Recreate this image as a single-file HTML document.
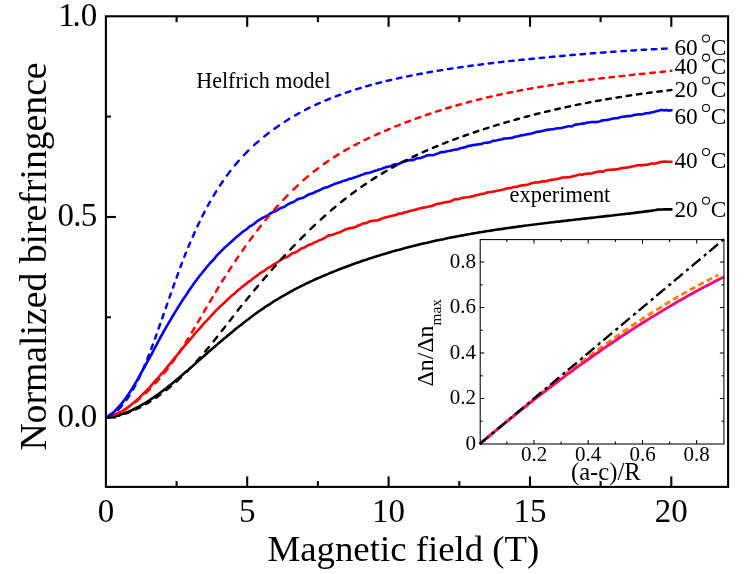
<!DOCTYPE html>
<html><head><meta charset="utf-8"><title>Normalized birefringence vs magnetic field</title>
<style>
html,body{margin:0;padding:0;background:#fff;}
body{width:747px;height:574px;overflow:hidden;}
svg{display:block;will-change:transform;}
text{font-family:"Liberation Serif",serif;fill:#000;}
</style></head><body>
<svg width="747" height="574" viewBox="0 0 747 574">
<rect x="0" y="0" width="747" height="574" fill="#fff"/>
<!-- main curves -->
<g fill="none" stroke-linejoin="round">
<path d="M106.2,417.4 L108.2,417.2 L110.2,416.9 L112.2,416.6 L114.2,416.2 L116.2,415.7 L118.2,415.2 L120.2,414.6 L122.2,414.0 L124.2,413.3 L126.2,412.5 L128.2,411.7 L130.2,410.9 L132.2,410.0 L134.2,409.0 L136.2,408.0 L138.2,407.0 L140.2,405.9 L142.2,404.7 L144.2,403.5 L146.2,402.3 L148.2,401.1 L150.2,399.8 L152.2,398.4 L154.2,397.0 L156.2,395.6 L158.2,394.2 L160.2,392.7 L162.2,391.2 L164.2,389.7 L166.2,388.2 L168.2,386.6 L170.2,385.0 L172.2,383.4 L174.2,381.8 L176.2,380.1 L178.2,378.4 L180.2,376.7 L182.2,375.0 L184.2,373.3 L186.2,371.6 L188.2,369.9 L190.2,368.1 L192.2,366.4 L194.2,364.6 L196.2,362.9 L198.2,361.1 L200.2,359.3 L202.2,357.6 L204.2,355.8 L206.2,354.1 L208.2,352.3 L210.2,350.6 L212.2,348.8 L214.2,347.1 L216.2,345.4 L218.2,343.6 L220.2,341.9 L222.2,340.2 L224.2,338.5 L226.2,336.9 L228.2,335.2 L230.2,333.5 L232.2,331.9 L234.2,330.3 L236.2,328.6 L238.2,327.0 L240.2,325.5 L242.2,323.9 L244.2,322.3 L246.2,320.8 L248.2,319.3 L250.2,317.7 L252.2,316.3 L254.2,314.8 L256.2,313.3 L258.2,311.9 L260.2,310.5 L262.2,309.1 L264.2,307.7 L266.2,306.4 L268.2,305.1 L270.2,303.8 L272.2,302.5 L274.2,301.2 L276.2,300.0 L278.2,298.8 L280.2,297.6 L282.2,296.4 L284.2,295.3 L286.2,294.1 L288.2,293.0 L290.2,291.9 L292.2,290.8 L294.2,289.7 L296.2,288.7 L298.2,287.7 L300.2,286.6 L302.2,285.6 L304.2,284.7 L306.2,283.7 L308.2,282.7 L310.2,281.8 L312.2,280.9 L314.2,279.9 L316.2,279.0 L318.2,278.1 L320.2,277.3 L322.2,276.4 L324.2,275.5 L326.2,274.7 L328.2,273.9 L330.2,273.0 L332.2,272.2 L334.2,271.4 L336.2,270.6 L338.2,269.8 L340.2,269.0 L342.2,268.3 L344.2,267.5 L346.2,266.7 L348.2,266.0 L350.2,265.3 L352.2,264.5 L354.2,263.8 L356.2,263.1 L358.2,262.4 L360.2,261.7 L362.2,261.0 L364.2,260.3 L366.2,259.7 L368.2,259.0 L370.2,258.3 L372.2,257.7 L374.2,257.1 L376.2,256.4 L378.2,255.8 L380.2,255.2 L382.2,254.6 L384.2,254.0 L386.2,253.4 L388.2,252.8 L390.2,252.2 L392.2,251.6 L394.2,251.1 L396.2,250.5 L398.2,250.0 L400.2,249.4 L402.2,248.9 L404.2,248.3 L406.2,247.8 L408.2,247.3 L410.2,246.8 L412.2,246.3 L414.2,245.8 L416.2,245.3 L418.2,244.8 L420.2,244.3 L422.2,243.8 L424.2,243.3 L426.2,242.9 L428.2,242.4 L430.2,242.0 L432.2,241.5 L434.2,241.1 L436.2,240.6 L438.2,240.2 L440.2,239.8 L442.2,239.4 L444.2,238.9 L446.2,238.5 L448.2,238.1 L450.2,237.7 L452.2,237.3 L454.2,236.9 L456.2,236.6 L458.2,236.2 L460.2,235.8 L462.2,235.4 L464.2,235.1 L466.2,234.7 L468.2,234.3 L470.2,234.0 L472.2,233.6 L474.2,233.3 L476.2,233.0 L478.2,232.6 L480.2,232.3 L482.2,232.0 L484.2,231.6 L486.2,231.3 L488.2,231.0 L490.2,230.7 L492.2,230.4 L494.2,230.0 L496.2,229.7 L498.2,229.4 L500.2,229.1 L502.2,228.9 L504.2,228.6 L506.2,228.3 L508.2,228.0 L510.2,227.7 L512.2,227.4 L514.2,227.1 L516.2,226.9 L518.2,226.6 L520.2,226.3 L522.2,226.1 L524.2,225.8 L526.2,225.5 L528.2,225.3 L530.2,225.0 L532.2,224.8 L534.2,224.5 L536.2,224.3 L538.2,224.0 L540.2,223.8 L542.2,223.5 L544.2,223.3 L546.2,223.0 L548.2,222.8 L550.2,222.5 L552.2,222.3 L554.2,222.1 L556.2,221.8 L558.2,221.6 L560.2,221.4 L562.2,221.1 L564.2,220.9 L566.2,220.7 L568.2,220.4 L570.2,220.2 L572.2,220.0 L574.2,219.8 L576.2,219.5 L578.2,219.3 L580.2,219.1 L582.2,218.8 L584.2,218.6 L586.2,218.4 L588.2,218.2 L590.2,217.9 L592.2,217.7 L594.2,217.5 L596.2,217.3 L598.2,217.0 L600.2,216.8 L602.2,216.6 L604.2,216.4 L606.2,216.1 L608.2,215.9 L610.2,215.7 L612.2,215.5 L614.2,215.2 L616.2,215.0 L618.2,214.8 L620.2,214.5 L622.2,214.3 L624.2,214.1 L626.2,213.8 L628.2,213.6 L630.2,213.4 L632.2,213.1 L634.2,212.9 L636.2,212.6 L638.2,212.4 L640.2,212.1 L642.2,211.9 L644.2,211.6 L646.2,211.4 L648.2,211.1 L650.2,210.9 L652.2,210.6 L654.2,210.3 L656.2,209.9 L658.2,209.6 L660.2,209.5 L662.2,209.5 L664.2,209.4 L666.2,209.4 L668.2,209.4 L670.2,209.4 L672.2,209.4 L672.5,209.4" stroke="#000" stroke-width="2.6"/>
<path d="M106.2,417.2 L107.2,417.1 L108.2,416.9 L109.2,416.8 L110.2,416.5 L111.2,416.0 L112.2,415.6 L113.2,415.2 L114.2,415.0 L115.2,414.7 L116.2,414.2 L117.2,413.7 L118.2,413.2 L119.2,412.7 L120.2,412.2 L121.2,411.6 L122.2,411.1 L123.2,410.5 L124.2,409.9 L125.2,409.2 L126.2,408.5 L127.2,407.7 L128.2,407.0 L129.2,406.3 L130.2,405.6 L131.2,404.8 L132.2,403.9 L133.2,403.0 L134.2,402.2 L135.2,401.3 L136.2,400.5 L137.2,399.6 L138.2,398.8 L139.2,397.8 L140.2,396.8 L141.2,395.8 L142.2,394.8 L143.2,393.9 L144.2,392.9 L145.2,392.0 L146.2,391.0 L147.2,390.0 L148.2,389.0 L149.2,387.9 L150.2,386.8 L151.2,385.6 L152.2,384.4 L153.2,383.2 L154.2,382.1 L155.2,380.9 L156.2,379.9 L157.2,378.8 L158.2,377.7 L159.2,376.5 L160.2,375.4 L161.2,374.2 L162.2,373.0 L163.2,371.9 L164.2,370.8 L165.2,369.6 L166.2,368.4 L167.2,367.1 L168.2,365.9 L169.2,364.7 L170.2,363.5 L171.2,362.3 L172.2,361.0 L173.2,359.8 L174.2,358.5 L175.2,357.3 L176.2,356.2 L177.2,355.0 L178.2,353.8 L179.2,352.5 L180.2,351.3 L181.2,350.0 L182.2,348.8 L183.2,347.6 L184.2,346.4 L185.2,345.2 L186.2,344.0 L187.2,342.9 L188.2,341.8 L189.2,340.7 L190.2,339.5 L191.2,338.3 L192.2,337.0 L193.2,335.7 L194.2,334.4 L195.2,333.2 L196.2,332.1 L197.2,331.1 L198.2,330.0 L199.2,329.0 L200.2,327.8 L201.2,326.6 L202.2,325.4 L203.2,324.3 L204.2,323.2 L205.2,322.2 L206.2,321.2 L207.2,320.2 L208.2,319.1 L209.2,318.0 L210.2,316.8 L211.2,315.8 L212.2,314.7 L213.2,313.7 L214.2,312.6 L215.2,311.4 L216.2,310.4 L217.2,309.4 L218.2,308.5 L219.2,307.5 L220.2,306.4 L221.2,305.5 L222.2,304.6 L223.2,303.7 L224.2,302.8 L225.2,301.8 L226.2,300.8 L227.2,300.0 L228.2,299.0 L229.2,298.1 L230.2,297.1 L231.2,296.1 L232.2,295.3 L233.2,294.5 L234.2,293.7 L235.2,292.9 L236.2,291.9 L237.2,291.0 L238.2,290.1 L239.2,289.3 L240.2,288.5 L241.2,287.6 L242.2,286.8 L243.2,286.1 L244.2,285.3 L245.2,284.5 L246.2,283.7 L247.2,282.9 L248.2,282.1 L249.2,281.4 L250.2,280.8 L251.2,280.1 L252.2,279.3 L253.2,278.3 L254.2,277.7 L255.2,276.9 L256.2,276.2 L257.2,275.4 L258.2,274.7 L259.2,273.9 L260.2,273.1 L261.2,272.5 L262.2,271.8 L263.2,271.3 L264.2,270.8 L265.2,270.1 L266.2,269.3 L267.2,268.5 L268.2,267.9 L269.2,267.3 L270.2,266.8 L271.2,266.2 L272.2,265.5 L273.2,264.8 L274.2,264.1 L275.2,263.5 L276.2,262.9 L277.2,262.4 L278.2,261.8 L279.2,261.1 L280.2,260.3 L281.2,259.5 L282.2,258.9 L283.2,258.3 L284.2,257.9 L285.2,257.6 L286.2,257.2 L287.2,256.9 L288.2,256.3 L289.2,255.6 L290.2,254.9 L291.2,254.1 L292.2,253.4 L293.2,252.9 L294.2,252.7 L295.2,252.4 L296.2,252.0 L297.2,251.4 L298.2,250.8 L299.2,250.0 L300.2,249.3 L301.2,248.6 L302.2,248.3 L303.2,248.1 L304.2,247.7 L305.2,247.1 L306.2,246.4 L307.2,245.7 L308.2,245.2 L309.2,244.8 L310.2,244.5 L311.2,244.3 L312.2,243.8 L313.2,243.1 L314.2,242.5 L315.2,242.1 L316.2,241.8 L317.2,241.4 L318.2,240.9 L319.2,240.4 L320.2,240.0 L321.2,239.6 L322.2,239.1 L323.2,238.7 L324.2,238.2 L325.2,237.7 L326.2,237.0 L327.2,236.2 L328.2,235.6 L329.2,235.3 L330.2,235.2 L331.2,235.1 L332.2,234.9 L333.2,234.5 L334.2,234.1 L335.2,233.7 L336.2,233.4 L337.2,233.0 L338.2,232.7 L339.2,232.4 L340.2,232.0 L341.2,231.6 L342.2,231.1 L343.2,230.6 L344.2,230.0 L345.2,229.6 L346.2,229.2 L347.2,228.9 L348.2,228.6 L349.2,228.3 L350.2,228.1 L351.2,228.1 L352.2,227.9 L353.2,227.6 L354.2,227.4 L355.2,227.0 L356.2,226.6 L357.2,226.0 L358.2,225.5 L359.2,225.2 L360.2,224.8 L361.2,224.3 L362.2,223.8 L363.2,223.5 L364.2,223.4 L365.2,223.3 L366.2,223.2 L367.2,222.7 L368.2,222.2 L369.2,221.6 L370.2,221.3 L371.2,221.1 L372.2,221.0 L373.2,220.8 L374.2,220.6 L375.2,220.5 L376.2,220.5 L377.2,220.4 L378.2,220.2 L379.2,219.7 L380.2,219.3 L381.2,218.8 L382.2,218.5 L383.2,218.1 L384.2,217.9 L385.2,217.4 L386.2,217.2 L387.2,217.0 L388.2,216.8 L389.2,216.4 L390.2,216.2 L391.2,216.0 L392.2,215.8 L393.2,215.5 L394.2,215.3 L395.2,215.1 L396.2,215.0 L397.2,214.5 L398.2,213.9 L399.2,213.5 L400.2,213.5 L401.2,213.6 L402.2,213.4 L403.2,213.0 L404.2,212.5 L405.2,212.2 L406.2,212.1 L407.2,211.9 L408.2,211.6 L409.2,211.2 L410.2,210.9 L411.2,210.7 L412.2,210.5 L413.2,210.1 L414.2,209.9 L415.2,209.7 L416.2,209.6 L417.2,209.2 L418.2,208.8 L419.2,208.4 L420.2,208.2 L421.2,208.0 L422.2,207.7 L423.2,207.6 L424.2,207.5 L425.2,207.5 L426.2,207.2 L427.2,207.0 L428.2,206.8 L429.2,206.6 L430.2,206.3 L431.2,206.2 L432.2,205.8 L433.2,205.5 L434.2,205.0 L435.2,204.6 L436.2,204.2 L437.2,203.9 L438.2,203.8 L439.2,203.6 L440.2,203.5 L441.2,203.3 L442.2,203.1 L443.2,202.8 L444.2,202.5 L445.2,202.2 L446.2,202.1 L447.2,202.0 L448.2,201.9 L449.2,201.8 L450.2,201.5 L451.2,201.0 L452.2,200.5 L453.2,200.1 L454.2,199.5 L455.2,199.1 L456.2,199.1 L457.2,199.2 L458.2,199.3 L459.2,199.0 L460.2,198.6 L461.2,198.2 L462.2,198.0 L463.2,197.8 L464.2,197.6 L465.2,197.5 L466.2,197.3 L467.2,197.2 L468.2,197.2 L469.2,197.0 L470.2,196.9 L471.2,196.5 L472.2,196.4 L473.2,196.1 L474.2,195.9 L475.2,195.4 L476.2,195.2 L477.2,195.0 L478.2,194.9 L479.2,194.6 L480.2,194.3 L481.2,194.0 L482.2,193.8 L483.2,193.7 L484.2,193.5 L485.2,193.2 L486.2,192.8 L487.2,192.4 L488.2,192.2 L489.2,192.1 L490.2,192.1 L491.2,191.9 L492.2,191.7 L493.2,191.5 L494.2,191.5 L495.2,191.4 L496.2,191.0 L497.2,190.8 L498.2,190.5 L499.2,190.5 L500.2,190.2 L501.2,190.0 L502.2,189.8 L503.2,189.6 L504.2,189.3 L505.2,188.9 L506.2,188.6 L507.2,188.4 L508.2,188.3 L509.2,188.1 L510.2,188.0 L511.2,187.9 L512.2,187.5 L513.2,187.2 L514.2,187.0 L515.2,187.0 L516.2,187.0 L517.2,186.7 L518.2,186.3 L519.2,185.9 L520.2,185.7 L521.2,185.5 L522.2,185.4 L523.2,185.3 L524.2,185.1 L525.2,185.2 L526.2,184.9 L527.2,184.8 L528.2,184.6 L529.2,184.3 L530.2,183.7 L531.2,183.2 L532.2,183.1 L533.2,183.0 L534.2,182.8 L535.2,182.5 L536.2,182.4 L537.2,182.5 L538.2,182.4 L539.2,182.2 L540.2,181.9 L541.2,181.6 L542.2,181.4 L543.2,181.4 L544.2,181.4 L545.2,181.4 L546.2,181.2 L547.2,180.9 L548.2,180.6 L549.2,180.2 L550.2,180.0 L551.2,179.9 L552.2,179.8 L553.2,179.7 L554.2,179.5 L555.2,179.3 L556.2,179.1 L557.2,179.0 L558.2,178.8 L559.2,178.6 L560.2,178.3 L561.2,177.8 L562.2,177.5 L563.2,177.5 L564.2,177.5 L565.2,177.5 L566.2,177.4 L567.2,177.2 L568.2,177.2 L569.2,177.2 L570.2,177.1 L571.2,176.8 L572.2,176.4 L573.2,176.2 L574.2,176.0 L575.2,175.8 L576.2,175.6 L577.2,175.3 L578.2,174.8 L579.2,174.5 L580.2,174.4 L581.2,174.6 L582.2,174.7 L583.2,174.5 L584.2,174.1 L585.2,173.9 L586.2,173.8 L587.2,173.7 L588.2,173.6 L589.2,173.6 L590.2,173.5 L591.2,173.5 L592.2,173.3 L593.2,173.0 L594.2,172.6 L595.2,172.3 L596.2,172.1 L597.2,171.9 L598.2,171.8 L599.2,171.5 L600.2,171.4 L601.2,171.5 L602.2,171.7 L603.2,171.6 L604.2,171.2 L605.2,170.6 L606.2,170.3 L607.2,170.1 L608.2,170.0 L609.2,169.8 L610.2,169.7 L611.2,169.7 L612.2,169.6 L613.2,169.6 L614.2,169.6 L615.2,169.5 L616.2,169.4 L617.2,169.3 L618.2,169.0 L619.2,168.8 L620.2,168.5 L621.2,168.4 L622.2,168.1 L623.2,167.9 L624.2,167.8 L625.2,167.7 L626.2,167.6 L627.2,167.5 L628.2,167.4 L629.2,167.3 L630.2,167.1 L631.2,166.7 L632.2,166.4 L633.2,166.2 L634.2,166.2 L635.2,165.9 L636.2,165.6 L637.2,165.3 L638.2,165.3 L639.2,165.3 L640.2,165.4 L641.2,165.2 L642.2,165.1 L643.2,165.0 L644.2,165.0 L645.2,165.0 L646.2,164.8 L647.2,164.7 L648.2,164.5 L649.2,164.3 L650.2,163.8 L651.2,163.5 L652.2,163.4 L653.2,163.6 L654.2,163.7 L655.2,163.6 L656.2,163.3 L657.2,163.0 L658.2,162.7 L659.2,162.4 L660.2,162.1 L661.2,161.9 L662.2,161.8 L663.2,161.7 L664.2,161.6 L665.2,161.6 L666.2,161.7 L667.2,161.7 L668.2,161.7 L669.2,161.7 L670.2,161.7 L671.2,161.7 L672.2,161.7 L672.5,161.7" stroke="#f00" stroke-width="2.6"/>
<path d="M106.2,416.9 L107.2,416.4 L108.2,415.9 L109.2,415.2 L110.2,414.5 L111.2,413.9 L112.2,413.3 L113.2,412.6 L114.2,411.7 L115.2,410.6 L116.2,409.5 L117.2,408.4 L118.2,407.4 L119.2,406.3 L120.2,405.2 L121.2,404.1 L122.2,402.9 L123.2,401.6 L124.2,400.3 L125.2,398.9 L126.2,397.5 L127.2,396.0 L128.2,394.6 L129.2,393.1 L130.2,391.7 L131.2,390.0 L132.2,388.4 L133.2,386.7 L134.2,385.1 L135.2,383.5 L136.2,381.8 L137.2,380.2 L138.2,378.3 L139.2,376.5 L140.2,374.7 L141.2,372.9 L142.2,371.1 L143.2,369.3 L144.2,367.6 L145.2,365.8 L146.2,363.9 L147.2,362.0 L148.2,360.2 L149.2,358.5 L150.2,356.7 L151.2,354.8 L152.2,353.0 L153.2,351.0 L154.2,349.1 L155.2,347.2 L156.2,345.4 L157.2,343.5 L158.2,341.7 L159.2,339.7 L160.2,337.8 L161.2,336.0 L162.2,334.3 L163.2,332.5 L164.2,330.7 L165.2,328.9 L166.2,327.1 L167.2,325.4 L168.2,323.6 L169.2,322.0 L170.2,320.3 L171.2,318.6 L172.2,316.8 L173.2,315.2 L174.2,313.6 L175.2,312.0 L176.2,310.4 L177.2,308.7 L178.2,307.1 L179.2,305.5 L180.2,304.0 L181.2,302.4 L182.2,300.8 L183.2,299.2 L184.2,297.8 L185.2,296.4 L186.2,294.9 L187.2,293.4 L188.2,291.8 L189.2,290.2 L190.2,288.8 L191.2,287.4 L192.2,286.0 L193.2,284.5 L194.2,283.1 L195.2,281.8 L196.2,280.5 L197.2,279.1 L198.2,277.7 L199.2,276.4 L200.2,275.2 L201.2,274.0 L202.2,272.8 L203.2,271.5 L204.2,270.2 L205.2,269.0 L206.2,267.7 L207.2,266.6 L208.2,265.3 L209.2,264.2 L210.2,263.0 L211.2,262.0 L212.2,261.0 L213.2,260.0 L214.2,258.8 L215.2,257.6 L216.2,256.3 L217.2,255.2 L218.2,254.1 L219.2,253.1 L220.2,252.1 L221.2,251.1 L222.2,250.1 L223.2,249.1 L224.2,248.0 L225.2,247.1 L226.2,246.3 L227.2,245.4 L228.2,244.6 L229.2,243.6 L230.2,242.7 L231.2,241.8 L232.2,241.0 L233.2,240.0 L234.2,239.1 L235.2,238.1 L236.2,237.2 L237.2,236.4 L238.2,235.7 L239.2,234.8 L240.2,234.0 L241.2,233.1 L242.2,232.3 L243.2,231.5 L244.2,230.8 L245.2,230.1 L246.2,229.5 L247.2,228.6 L248.2,227.7 L249.2,226.9 L250.2,226.0 L251.2,225.6 L252.2,225.1 L253.2,224.5 L254.2,223.7 L255.2,222.9 L256.2,222.1 L257.2,221.2 L258.2,220.6 L259.2,220.0 L260.2,219.3 L261.2,218.7 L262.2,218.1 L263.2,217.6 L264.2,217.1 L265.2,216.6 L266.2,216.0 L267.2,215.6 L268.2,215.0 L269.2,214.4 L270.2,213.5 L271.2,213.0 L272.2,212.4 L273.2,212.1 L274.2,211.7 L275.2,211.3 L276.2,210.8 L277.2,210.2 L278.2,209.6 L279.2,208.9 L280.2,208.3 L281.2,207.8 L282.2,207.5 L283.2,207.3 L284.2,206.8 L285.2,206.3 L286.2,205.4 L287.2,204.8 L288.2,204.2 L289.2,203.7 L290.2,203.2 L291.2,202.8 L292.2,202.4 L293.2,202.1 L294.2,201.5 L295.2,200.9 L296.2,200.2 L297.2,199.5 L298.2,199.0 L299.2,198.7 L300.2,198.5 L301.2,198.3 L302.2,198.0 L303.2,197.7 L304.2,197.2 L305.2,196.6 L306.2,195.9 L307.2,195.3 L308.2,194.7 L309.2,194.3 L310.2,193.9 L311.2,193.8 L312.2,193.4 L313.2,193.1 L314.2,192.5 L315.2,192.0 L316.2,191.5 L317.2,191.1 L318.2,190.7 L319.2,190.3 L320.2,189.9 L321.2,189.4 L322.2,188.8 L323.2,188.3 L324.2,187.8 L325.2,187.6 L326.2,187.4 L327.2,187.3 L328.2,186.9 L329.2,186.3 L330.2,185.8 L331.2,185.4 L332.2,185.1 L333.2,184.7 L334.2,184.2 L335.2,183.7 L336.2,183.4 L337.2,183.1 L338.2,182.9 L339.2,182.5 L340.2,182.3 L341.2,181.8 L342.2,181.3 L343.2,180.9 L344.2,180.7 L345.2,180.5 L346.2,180.3 L347.2,179.8 L348.2,179.2 L349.2,178.9 L350.2,178.8 L351.2,178.7 L352.2,178.3 L353.2,177.9 L354.2,177.5 L355.2,177.3 L356.2,177.1 L357.2,176.6 L358.2,176.2 L359.2,175.7 L360.2,175.4 L361.2,175.0 L362.2,174.8 L363.2,174.4 L364.2,173.9 L365.2,173.4 L366.2,173.2 L367.2,173.1 L368.2,173.1 L369.2,172.9 L370.2,172.5 L371.2,172.1 L372.2,171.7 L373.2,171.4 L374.2,171.0 L375.2,170.7 L376.2,170.5 L377.2,170.2 L378.2,169.8 L379.2,169.5 L380.2,169.3 L381.2,169.0 L382.2,168.6 L383.2,168.2 L384.2,167.7 L385.2,167.4 L386.2,167.0 L387.2,166.9 L388.2,166.7 L389.2,166.5 L390.2,166.3 L391.2,165.9 L392.2,165.4 L393.2,164.9 L394.2,164.5 L395.2,164.4 L396.2,164.4 L397.2,164.2 L398.2,164.1 L399.2,163.7 L400.2,163.3 L401.2,162.7 L402.2,162.1 L403.2,161.8 L404.2,161.6 L405.2,161.4 L406.2,161.1 L407.2,160.8 L408.2,160.5 L409.2,160.3 L410.2,160.1 L411.2,160.1 L412.2,160.1 L413.2,160.0 L414.2,159.7 L415.2,159.1 L416.2,158.6 L417.2,158.2 L418.2,158.2 L419.2,158.2 L420.2,158.0 L421.2,157.7 L422.2,157.3 L423.2,157.0 L424.2,156.6 L425.2,156.2 L426.2,155.7 L427.2,155.4 L428.2,155.2 L429.2,155.1 L430.2,155.0 L431.2,155.2 L432.2,155.3 L433.2,155.3 L434.2,154.9 L435.2,154.4 L436.2,154.0 L437.2,153.7 L438.2,153.4 L439.2,153.0 L440.2,152.5 L441.2,152.1 L442.2,152.1 L443.2,152.1 L444.2,152.0 L445.2,151.7 L446.2,151.4 L447.2,151.2 L448.2,151.0 L449.2,151.0 L450.2,150.8 L451.2,150.5 L452.2,150.3 L453.2,149.9 L454.2,149.7 L455.2,149.5 L456.2,149.5 L457.2,149.4 L458.2,149.2 L459.2,148.7 L460.2,148.3 L461.2,148.0 L462.2,147.8 L463.2,147.7 L464.2,147.5 L465.2,147.3 L466.2,146.8 L467.2,146.3 L468.2,145.9 L469.2,145.9 L470.2,145.9 L471.2,145.6 L472.2,145.3 L473.2,145.1 L474.2,145.0 L475.2,144.9 L476.2,144.6 L477.2,144.6 L478.2,144.4 L479.2,144.3 L480.2,144.1 L481.2,144.0 L482.2,143.6 L483.2,143.3 L484.2,142.9 L485.2,142.7 L486.2,142.7 L487.2,142.6 L488.2,142.5 L489.2,142.4 L490.2,142.2 L491.2,141.7 L492.2,141.2 L493.2,140.8 L494.2,140.8 L495.2,140.8 L496.2,140.6 L497.2,140.3 L498.2,139.9 L499.2,139.7 L500.2,139.5 L501.2,139.5 L502.2,139.2 L503.2,138.8 L504.2,138.5 L505.2,138.5 L506.2,138.5 L507.2,138.4 L508.2,138.2 L509.2,138.2 L510.2,138.1 L511.2,138.0 L512.2,137.7 L513.2,137.4 L514.2,137.1 L515.2,136.8 L516.2,136.5 L517.2,136.5 L518.2,136.2 L519.2,136.0 L520.2,135.5 L521.2,135.4 L522.2,135.2 L523.2,135.1 L524.2,135.0 L525.2,134.7 L526.2,134.5 L527.2,134.2 L528.2,134.1 L529.2,134.0 L530.2,133.9 L531.2,133.6 L532.2,133.3 L533.2,133.1 L534.2,132.7 L535.2,132.3 L536.2,132.0 L537.2,131.7 L538.2,131.6 L539.2,131.6 L540.2,131.4 L541.2,131.4 L542.2,131.0 L543.2,130.8 L544.2,130.5 L545.2,130.2 L546.2,129.9 L547.2,129.9 L548.2,129.8 L549.2,129.6 L550.2,129.5 L551.2,129.3 L552.2,129.3 L553.2,129.2 L554.2,129.0 L555.2,128.8 L556.2,128.4 L557.2,128.2 L558.2,128.2 L559.2,128.3 L560.2,128.3 L561.2,128.1 L562.2,127.7 L563.2,127.4 L564.2,127.2 L565.2,127.1 L566.2,126.9 L567.2,126.6 L568.2,126.3 L569.2,126.2 L570.2,126.3 L571.2,126.5 L572.2,126.3 L573.2,125.7 L574.2,125.1 L575.2,124.6 L576.2,124.6 L577.2,124.5 L578.2,124.3 L579.2,124.1 L580.2,123.9 L581.2,123.7 L582.2,123.6 L583.2,123.6 L584.2,123.5 L585.2,123.3 L586.2,122.9 L587.2,122.6 L588.2,122.5 L589.2,122.4 L590.2,122.2 L591.2,122.0 L592.2,122.0 L593.2,122.0 L594.2,122.0 L595.2,122.1 L596.2,122.1 L597.2,121.9 L598.2,121.7 L599.2,121.5 L600.2,121.2 L601.2,120.8 L602.2,120.4 L603.2,120.4 L604.2,120.3 L605.2,120.3 L606.2,120.0 L607.2,119.9 L608.2,119.7 L609.2,119.6 L610.2,119.3 L611.2,118.9 L612.2,118.7 L613.2,118.5 L614.2,118.4 L615.2,118.3 L616.2,118.3 L617.2,118.2 L618.2,117.9 L619.2,117.6 L620.2,117.3 L621.2,117.1 L622.2,116.8 L623.2,116.7 L624.2,116.6 L625.2,116.6 L626.2,116.3 L627.2,116.1 L628.2,116.0 L629.2,116.1 L630.2,116.1 L631.2,115.9 L632.2,115.6 L633.2,115.3 L634.2,114.9 L635.2,114.8 L636.2,114.7 L637.2,114.6 L638.2,114.4 L639.2,114.4 L640.2,114.4 L641.2,114.4 L642.2,114.2 L643.2,114.0 L644.2,113.7 L645.2,113.5 L646.2,113.3 L647.2,113.3 L648.2,113.1 L649.2,113.1 L650.2,112.7 L651.2,112.5 L652.2,112.3 L653.2,112.2 L654.2,111.9 L655.2,111.6 L656.2,111.3 L657.2,111.0 L658.2,110.7 L659.2,110.4 L660.2,110.2 L661.2,110.0 L662.2,109.9 L663.2,110.2 L664.2,110.4 L665.2,110.3 L666.2,109.9 L667.2,110.2 L668.2,110.7 L669.2,110.6 L670.2,110.3 L671.2,110.3 L672.2,110.5 L672.5,110.6" stroke="#00f" stroke-width="2.6"/>
<g stroke-width="2.45" stroke-linecap="round">
<path d="M106.2,417.6 L107.0,417.5 L107.8,417.5 L108.6,417.4 L109.4,417.3 L109.5,417.3 M115.2,416.4 L116.0,416.2 L116.8,416.1 L117.6,415.9 L118.4,415.7 L119.2,415.5 L119.7,415.3 M125.4,413.6 L126.2,413.3 L127.0,413.1 L127.8,412.8 L128.6,412.5 L129.4,412.1 L129.9,411.9 M135.6,409.5 L136.4,409.1 L137.2,408.7 L138.0,408.3 L138.8,407.9 L139.6,407.5 L140.1,407.3 M145.8,404.1 L146.6,403.7 L147.4,403.2 L148.2,402.7 L149.0,402.2 L149.8,401.7 L150.3,401.4 M156.0,397.7 L156.8,397.1 L157.6,396.6 L158.4,396.0 L159.2,395.4 L160.0,394.9 L160.5,394.5 M166.2,390.2 L167.0,389.5 L167.8,388.9 L168.6,388.3 L169.4,387.6 L170.2,386.9 L170.7,386.5 M176.4,381.6 L177.2,380.9 L178.0,380.1 L178.8,379.4 L179.6,378.7 L180.4,377.9 L180.9,377.4 M186.6,371.9 L187.4,371.1 L188.2,370.3 L189.0,369.5 L189.8,368.6 L190.6,367.8 L191.0,367.4 M196.3,361.7 L197.1,360.8 L197.9,359.9 L198.7,359.0 L199.5,358.1 L200.3,357.2 M205.2,351.5 L206.0,350.6 L206.8,349.6 L207.6,348.6 L208.4,347.7 L208.9,347.1 M213.6,341.3 L214.4,340.3 L215.2,339.3 L216.0,338.3 L216.8,337.3 L217.2,336.7 M221.7,331.0 L222.5,330.0 L223.3,329.0 L224.1,328.0 L224.9,326.9 L225.2,326.6 M229.6,320.9 L230.4,319.9 L231.2,318.9 L232.0,317.9 L232.8,316.8 L233.1,316.5 M237.7,310.6 L238.5,309.6 L239.3,308.6 L240.1,307.6 L240.9,306.6 L241.3,306.1 M245.9,300.5 L246.7,299.5 L247.5,298.5 L248.3,297.5 L249.1,296.5 L249.5,296.1 M254.3,290.3 L255.1,289.3 L255.9,288.4 L256.7,287.4 L257.5,286.4 L258.0,285.9 M262.9,280.1 L263.7,279.2 L264.5,278.2 L265.3,277.3 L266.1,276.4 L266.8,275.6 M271.8,269.9 L272.6,268.9 L273.4,268.0 L274.2,267.1 L275.0,266.2 L275.8,265.4 M280.9,259.7 L281.7,258.8 L282.5,258.0 L283.3,257.1 L284.1,256.2 L284.9,255.4 L285.0,255.2 M290.4,249.5 L291.2,248.6 L292.0,247.8 L292.8,247.0 L293.6,246.1 L294.4,245.3 L294.7,245.0 M300.3,239.3 L301.1,238.5 L301.9,237.6 L302.7,236.8 L303.5,236.0 L304.3,235.3 L304.8,234.8 M310.5,229.2 L311.3,228.4 L312.1,227.7 L312.9,226.9 L313.7,226.1 L314.5,225.4 L315.0,224.9 M320.7,219.6 L321.5,218.9 L322.3,218.2 L323.1,217.5 L323.9,216.7 L324.7,216.0 L325.2,215.6 M330.9,210.6 L331.7,209.9 L332.5,209.2 L333.3,208.5 L334.1,207.9 L334.9,207.2 L335.4,206.8 M341.1,202.1 L341.9,201.5 L342.7,200.8 L343.5,200.2 L344.3,199.5 L345.1,198.9 L345.6,198.5 M351.3,194.2 L352.1,193.6 L352.9,193.0 L353.7,192.4 L354.5,191.8 L355.3,191.2 L355.8,190.9 M361.5,186.8 L362.3,186.2 L363.1,185.7 L363.9,185.1 L364.7,184.6 L365.5,184.1 L366.0,183.7 M371.7,180.0 L372.5,179.4 L373.3,178.9 L374.1,178.4 L374.9,177.9 L375.7,177.4 L376.2,177.1 M381.9,173.6 L382.7,173.1 L383.5,172.6 L384.3,172.2 L385.1,171.7 L385.9,171.2 L386.4,170.9 M392.1,167.7 L392.9,167.2 L393.7,166.8 L394.5,166.3 L395.3,165.9 L396.1,165.5 L396.6,165.2 M402.3,162.2 L403.1,161.8 L403.9,161.4 L404.7,160.9 L405.5,160.5 L406.3,160.1 L406.8,159.9 M412.5,157.1 L413.3,156.7 L414.1,156.3 L414.9,155.9 L415.7,155.5 L416.5,155.2 L417.0,154.9 M422.7,152.3 L423.5,151.9 L424.3,151.6 L425.1,151.2 L425.9,150.9 L426.7,150.5 L427.2,150.3 M432.9,147.9 L433.7,147.5 L434.5,147.2 L435.3,146.9 L436.1,146.5 L436.9,146.2 L437.4,146.0 M443.1,143.7 L443.9,143.4 L444.7,143.1 L445.5,142.7 L446.3,142.4 L447.1,142.1 L447.6,141.9 M453.3,139.8 L454.1,139.5 L454.9,139.2 L455.7,138.9 L456.5,138.6 L457.3,138.3 L457.8,138.1 M463.5,136.1 L464.3,135.8 L465.1,135.5 L465.9,135.2 L466.7,134.9 L467.5,134.7 L468.0,134.5 M473.7,132.5 L474.5,132.3 L475.3,132.0 L476.1,131.7 L476.9,131.4 L477.7,131.2 L478.2,131.0 M483.9,129.1 L484.7,128.9 L485.5,128.6 L486.3,128.4 L487.1,128.1 L487.9,127.9 L488.4,127.7 M494.1,125.9 L494.9,125.7 L495.7,125.4 L496.5,125.2 L497.3,124.9 L498.1,124.7 L498.6,124.5 M504.3,122.8 L505.1,122.6 L505.9,122.4 L506.7,122.1 L507.5,121.9 L508.3,121.7 L508.8,121.5 M514.5,119.9 L515.3,119.7 L516.1,119.5 L516.9,119.2 L517.7,119.0 L518.5,118.8 L519.0,118.7 M524.7,117.1 L525.5,116.9 L526.3,116.7 L527.1,116.5 L527.9,116.3 L528.7,116.1 L529.2,115.9 M534.9,114.5 L535.7,114.2 L536.5,114.0 L537.3,113.8 L538.1,113.6 L538.9,113.4 L539.4,113.3 M545.1,111.9 L545.9,111.7 L546.7,111.5 L547.5,111.4 L548.3,111.2 L549.1,111.0 L549.6,110.9 M555.3,109.5 L556.1,109.3 L556.9,109.2 L557.7,109.0 L558.5,108.8 L559.3,108.6 L559.8,108.5 M565.5,107.3 L566.3,107.1 L567.1,106.9 L567.9,106.7 L568.7,106.6 L569.5,106.4 L570.0,106.3 M575.7,105.1 L576.5,104.9 L577.3,104.8 L578.1,104.6 L578.9,104.4 L579.7,104.3 L580.2,104.2 M585.9,103.1 L586.7,102.9 L587.5,102.8 L588.3,102.6 L589.1,102.4 L589.9,102.3 L590.4,102.2 M596.1,101.1 L596.9,101.0 L597.7,100.8 L598.5,100.7 L599.3,100.6 L600.1,100.4 L600.6,100.3 M606.3,99.3 L607.1,99.2 L607.9,99.0 L608.7,98.9 L609.5,98.8 L610.3,98.6 L610.8,98.5 M616.5,97.6 L617.3,97.5 L618.1,97.3 L618.9,97.2 L619.7,97.1 L620.5,97.0 L621.0,96.9 M626.7,96.0 L627.5,95.9 L628.3,95.7 L629.1,95.6 L629.9,95.5 L630.7,95.4 L631.2,95.3 M636.9,94.5 L637.7,94.4 L638.5,94.2 L639.3,94.1 L640.1,94.0 L640.9,93.9 L641.4,93.8 M647.1,93.1 L647.9,92.9 L648.7,92.8 L649.5,92.7 L650.3,92.6 L651.1,92.5 L651.6,92.5 M657.3,91.7 L658.1,91.6 L658.9,91.5 L659.7,91.4 L660.5,91.3 L661.3,91.2 L661.8,91.2 M667.5,90.5 L668.3,90.4 L669.1,90.3 L669.9,90.2 L670.7,90.1 L671.4,90.0" stroke="#000"/>
<path d="M106.2,417.4 L107.0,417.2 L107.8,417.0 L108.6,416.8 L109.1,416.6 M114.8,414.6 L115.6,414.2 L116.4,413.9 L117.2,413.5 L118.0,413.1 L118.8,412.8 L119.3,412.5 M125.0,409.4 L125.8,408.9 L126.6,408.4 L127.4,407.9 L128.2,407.3 L129.0,406.8 L129.5,406.5 M135.2,402.3 L136.0,401.7 L136.8,401.0 L137.6,400.4 L138.4,399.7 L139.2,399.0 L139.7,398.6 M145.4,393.5 L146.2,392.7 L147.0,392.0 L147.8,391.2 L148.6,390.4 L149.4,389.6 L149.9,389.1 M155.3,383.4 L156.1,382.5 L156.9,381.7 L157.7,380.8 L158.5,379.8 L159.3,378.9 M164.0,373.3 L164.8,372.3 L165.6,371.3 L166.4,370.3 L167.2,369.3 L167.6,368.7 M171.9,363.0 L172.7,361.9 L173.5,360.8 L174.3,359.7 L175.1,358.5 M179.0,352.8 L179.8,351.6 L180.6,350.4 L181.4,349.2 L181.9,348.4 M185.6,342.6 L186.4,341.3 L187.2,340.0 L188.0,338.7 L188.3,338.3 M191.8,332.5 L192.6,331.2 L193.4,329.8 L194.2,328.5 L194.5,328.0 M197.9,322.2 L198.7,320.9 L199.5,319.5 L200.3,318.1 L200.5,317.8 M203.9,312.0 L204.7,310.6 L205.5,309.2 L206.3,307.9 L206.5,307.5 M209.8,301.9 L210.6,300.5 L211.4,299.2 L212.2,297.8 L212.5,297.3 M215.9,291.6 L216.7,290.3 L217.5,289.0 L218.3,287.7 L218.6,287.2 M222.1,281.5 L222.9,280.2 L223.7,278.9 L224.5,277.6 L224.9,277.0 M228.6,271.2 L229.4,270.0 L230.2,268.7 L231.0,267.5 L231.5,266.7 M235.3,261.0 L236.1,259.8 L236.9,258.6 L237.7,257.5 L238.3,256.6 M242.3,250.8 L243.1,249.7 L243.9,248.5 L244.7,247.4 L245.4,246.4 M249.6,240.6 L250.4,239.5 L251.2,238.5 L252.0,237.4 L252.8,236.3 L252.9,236.2 M257.3,230.4 L258.1,229.4 L258.9,228.3 L259.7,227.3 L260.5,226.3 L260.8,225.9 M265.4,220.2 L266.2,219.3 L267.0,218.3 L267.8,217.3 L268.6,216.4 L269.1,215.8 M274.0,210.1 L274.8,209.1 L275.6,208.2 L276.4,207.3 L277.2,206.4 L278.0,205.6 M283.3,199.8 L284.1,199.0 L284.9,198.1 L285.7,197.3 L286.5,196.5 L287.3,195.6 L287.6,195.3 M293.3,189.6 L294.1,188.9 L294.9,188.1 L295.7,187.3 L296.5,186.6 L297.3,185.8 L297.8,185.4 M303.5,180.2 L304.3,179.5 L305.1,178.8 L305.9,178.1 L306.7,177.4 L307.5,176.7 L308.0,176.3 M313.7,171.7 L314.5,171.0 L315.3,170.4 L316.1,169.8 L316.9,169.2 L317.7,168.6 L318.2,168.2 M323.9,164.0 L324.7,163.4 L325.5,162.9 L326.3,162.3 L327.1,161.8 L327.9,161.2 L328.4,160.9 M334.1,157.1 L334.9,156.6 L335.7,156.1 L336.5,155.6 L337.3,155.1 L338.1,154.6 L338.6,154.3 M344.3,150.9 L345.1,150.4 L345.9,149.9 L346.7,149.5 L347.5,149.0 L348.3,148.6 L348.8,148.3 M354.5,145.2 L355.3,144.8 L356.1,144.4 L356.9,143.9 L357.7,143.5 L358.5,143.1 L359.0,142.9 M364.7,140.0 L365.5,139.7 L366.3,139.3 L367.1,138.9 L367.9,138.5 L368.7,138.1 L369.2,137.9 M374.9,135.3 L375.7,134.9 L376.5,134.5 L377.3,134.2 L378.1,133.8 L378.9,133.5 L379.4,133.3 M385.1,130.8 L385.9,130.5 L386.7,130.1 L387.5,129.8 L388.3,129.4 L389.1,129.1 L389.6,128.9 M395.3,126.5 L396.1,126.2 L396.9,125.9 L397.7,125.6 L398.5,125.3 L399.3,124.9 L399.8,124.7 M405.5,122.5 L406.3,122.2 L407.1,121.9 L407.9,121.6 L408.7,121.3 L409.5,121.0 L410.0,120.8 M415.7,118.7 L416.5,118.4 L417.3,118.1 L418.1,117.8 L418.9,117.6 L419.7,117.3 L420.2,117.1 M425.9,115.1 L426.7,114.8 L427.5,114.5 L428.3,114.3 L429.1,114.0 L429.9,113.7 L430.4,113.6 M436.1,111.7 L436.9,111.4 L437.7,111.2 L438.5,110.9 L439.3,110.7 L440.1,110.4 L440.6,110.3 M446.3,108.5 L447.1,108.2 L447.9,108.0 L448.7,107.8 L449.5,107.5 L450.3,107.3 L450.8,107.1 M456.5,105.5 L457.3,105.2 L458.1,105.0 L458.9,104.8 L459.7,104.6 L460.5,104.3 L461.0,104.2 M466.7,102.6 L467.5,102.4 L468.3,102.2 L469.1,102.0 L469.9,101.8 L470.7,101.6 L471.2,101.4 M476.9,100.0 L477.7,99.8 L478.5,99.6 L479.3,99.4 L480.1,99.2 L480.9,99.0 L481.4,98.9 M487.1,97.5 L487.9,97.3 L488.7,97.1 L489.5,96.9 L490.3,96.7 L491.1,96.6 L491.6,96.5 M497.3,95.2 L498.1,95.0 L498.9,94.8 L499.7,94.6 L500.5,94.5 L501.3,94.3 L501.8,94.2 M507.5,93.0 L508.3,92.8 L509.1,92.7 L509.9,92.5 L510.7,92.3 L511.5,92.2 L512.0,92.1 M517.7,91.0 L518.5,90.8 L519.3,90.6 L520.1,90.5 L520.9,90.3 L521.7,90.2 L522.2,90.1 M527.9,89.0 L528.7,88.9 L529.5,88.8 L530.3,88.6 L531.1,88.5 L531.9,88.3 L532.4,88.2 M538.1,87.3 L538.9,87.1 L539.7,87.0 L540.5,86.9 L541.3,86.7 L542.1,86.6 L542.6,86.5 M548.3,85.6 L549.1,85.5 L549.9,85.3 L550.7,85.2 L551.5,85.1 L552.3,85.0 L552.8,84.9 M558.5,84.0 L559.3,83.9 L560.1,83.8 L560.9,83.7 L561.7,83.5 L562.5,83.4 L563.0,83.3 M568.7,82.5 L569.5,82.4 L570.3,82.3 L571.1,82.2 L571.9,82.1 L572.7,82.0 L573.2,81.9 M578.9,81.1 L579.7,81.0 L580.5,80.9 L581.3,80.8 L582.1,80.7 L582.9,80.6 L583.4,80.5 M589.1,79.8 L589.9,79.7 L590.7,79.6 L591.5,79.5 L592.3,79.4 L593.1,79.3 L593.6,79.3 M599.3,78.6 L600.1,78.5 L600.9,78.4 L601.7,78.3 L602.5,78.2 L603.3,78.1 L603.8,78.0 M609.5,77.4 L610.3,77.3 L611.1,77.2 L611.9,77.1 L612.7,77.0 L613.5,76.9 L614.0,76.9 M619.7,76.2 L620.5,76.1 L621.3,76.1 L622.1,76.0 L622.9,75.9 L623.7,75.8 L624.2,75.7 M629.9,75.1 L630.7,75.0 L631.5,75.0 L632.3,74.9 L633.1,74.8 L633.9,74.7 L634.4,74.6 M640.1,74.0 L640.9,74.0 L641.7,73.9 L642.5,73.8 L643.3,73.7 L644.1,73.6 L644.6,73.6 M650.3,73.0 L651.1,72.9 L651.9,72.8 L652.7,72.7 L653.5,72.7 L654.3,72.6 L654.8,72.5 M660.5,71.9 L661.3,71.9 L662.1,71.8 L662.9,71.7 L663.7,71.6 L664.5,71.5 L665.0,71.5 M670.7,70.9 L671.4,70.8" stroke="#f00"/>
<path d="M107.6,416.7 L108.4,416.4 L109.2,416.1 L110.0,415.7 L110.8,415.2 L111.6,414.8 L112.1,414.5 M117.8,410.0 L118.6,409.3 L119.4,408.5 L120.2,407.6 L121.0,406.8 L121.8,405.9 L122.0,405.6 M126.5,399.9 L127.3,398.7 L128.1,397.5 L128.9,396.3 L129.5,395.4 M133.0,389.6 L133.8,388.2 L134.6,386.7 L135.4,385.2 M138.3,379.5 L139.1,377.8 L139.9,376.2 L140.4,375.1 M143.0,369.3 L143.8,367.4 L144.6,365.5 L144.9,364.8 M147.3,358.9 L148.1,356.9 L148.9,354.9 L149.0,354.6 M151.2,348.9 L152.0,346.7 L152.8,344.6 M155.0,338.6 L155.8,336.3 L156.5,334.4 M158.6,328.5 L159.4,326.2 L160.2,324.0 M162.2,318.3 L163.0,316.0 L163.7,314.0 M165.8,308.0 L166.6,305.7 L167.3,303.7 M169.4,297.7 L170.2,295.4 L170.9,293.4 M173.0,287.5 L173.8,285.2 L174.5,283.3 M176.6,277.5 L177.4,275.3 L178.2,273.1 M180.4,267.1 L181.2,265.0 L182.0,262.9 M184.3,256.9 L185.1,254.9 L185.9,252.9 L186.0,252.7 M188.4,246.8 L189.2,244.8 L190.0,242.9 L190.2,242.5 M192.7,236.7 L193.5,234.9 L194.3,233.1 L194.7,232.2 M197.4,226.3 L198.2,224.6 L199.0,223.0 L199.5,221.9 M202.3,216.3 L203.1,214.7 L203.9,213.1 L204.6,211.8 M207.7,206.0 L208.5,204.5 L209.3,203.1 L210.1,201.7 M213.5,195.8 L214.3,194.5 L215.1,193.2 L215.9,191.9 L216.2,191.4 M219.9,185.6 L220.7,184.4 L221.5,183.2 L222.3,182.0 L222.9,181.2 M226.9,175.5 L227.7,174.4 L228.5,173.4 L229.3,172.3 L230.1,171.3 L230.3,171.0 M234.9,165.3 L235.7,164.3 L236.5,163.4 L237.3,162.4 L238.1,161.5 L238.7,160.8 M243.9,155.1 L244.7,154.3 L245.5,153.5 L246.3,152.6 L247.1,151.8 L247.9,151.0 L248.4,150.5 M254.1,145.1 L254.9,144.4 L255.7,143.7 L256.5,143.0 L257.3,142.3 L258.1,141.6 L258.6,141.2 M264.3,136.4 L265.1,135.8 L265.9,135.2 L266.7,134.6 L267.5,133.9 L268.3,133.3 L268.8,132.9 M274.5,128.7 L275.3,128.1 L276.1,127.6 L276.9,127.0 L277.7,126.5 L278.5,125.9 L279.0,125.6 M284.7,121.8 L285.5,121.3 L286.3,120.7 L287.1,120.2 L287.9,119.7 L288.7,119.2 L289.2,118.9 M294.9,115.5 L295.7,115.1 L296.5,114.6 L297.3,114.2 L298.1,113.7 L298.9,113.3 L299.4,113.0 M305.1,110.0 L305.9,109.5 L306.7,109.1 L307.5,108.7 L308.3,108.3 L309.1,107.9 L309.6,107.7 M315.3,105.0 L316.1,104.6 L316.9,104.2 L317.7,103.9 L318.5,103.5 L319.3,103.1 L319.8,102.9 M325.5,100.5 L326.3,100.1 L327.1,99.8 L327.9,99.5 L328.7,99.2 L329.5,98.8 L330.0,98.6 M335.7,96.4 L336.5,96.1 L337.3,95.8 L338.1,95.5 L338.9,95.2 L339.7,94.9 L340.2,94.8 M345.9,92.7 L346.7,92.5 L347.5,92.2 L348.3,91.9 L349.1,91.7 L349.9,91.4 L350.4,91.2 M356.1,89.4 L356.9,89.1 L357.7,88.9 L358.5,88.6 L359.3,88.4 L360.1,88.1 L360.6,88.0 M366.3,86.3 L367.1,86.1 L367.9,85.9 L368.7,85.6 L369.5,85.4 L370.3,85.2 L370.8,85.0 M376.5,83.5 L377.3,83.3 L378.1,83.1 L378.9,82.9 L379.7,82.7 L380.5,82.5 L381.0,82.3 M386.7,80.9 L387.5,80.7 L388.3,80.5 L389.1,80.4 L389.9,80.2 L390.7,80.0 L391.2,79.9 M396.9,78.6 L397.7,78.4 L398.5,78.2 L399.3,78.0 L400.1,77.9 L400.9,77.7 L401.4,77.6 M407.1,76.4 L407.9,76.2 L408.7,76.1 L409.5,75.9 L410.3,75.8 L411.1,75.6 L411.6,75.5 M417.3,74.4 L418.1,74.2 L418.9,74.1 L419.7,73.9 L420.5,73.8 L421.3,73.7 L421.8,73.6 M427.5,72.5 L428.3,72.4 L429.1,72.2 L429.9,72.1 L430.7,72.0 L431.5,71.8 L432.0,71.7 M437.7,70.8 L438.5,70.6 L439.3,70.5 L440.1,70.4 L440.9,70.3 L441.7,70.1 L442.2,70.0 M447.9,69.1 L448.7,69.0 L449.5,68.9 L450.3,68.8 L451.1,68.6 L451.9,68.5 L452.4,68.4 M458.1,67.6 L458.9,67.5 L459.7,67.4 L460.5,67.2 L461.3,67.1 L462.1,67.0 L462.6,66.9 M468.3,66.2 L469.1,66.0 L469.9,65.9 L470.7,65.8 L471.5,65.7 L472.3,65.6 L472.8,65.5 M478.5,64.8 L479.3,64.7 L480.1,64.6 L480.9,64.5 L481.7,64.4 L482.5,64.3 L483.0,64.2 M488.7,63.5 L489.5,63.4 L490.3,63.3 L491.1,63.2 L491.9,63.1 L492.7,63.0 L493.2,63.0 M498.9,62.3 L499.7,62.2 L500.5,62.1 L501.3,62.0 L502.1,61.9 L502.9,61.8 L503.4,61.8 M509.1,61.1 L509.9,61.1 L510.7,61.0 L511.5,60.9 L512.3,60.8 L513.1,60.7 L513.6,60.7 M519.3,60.1 L520.1,60.0 L520.9,59.9 L521.7,59.8 L522.5,59.7 L523.3,59.6 L523.8,59.6 M529.5,59.0 L530.3,58.9 L531.1,58.9 L531.9,58.8 L532.7,58.7 L533.5,58.6 L534.0,58.6 M539.7,58.0 L540.5,57.9 L541.3,57.9 L542.1,57.8 L542.9,57.7 L543.7,57.6 L544.2,57.6 M549.9,57.0 L550.7,57.0 L551.5,56.9 L552.3,56.8 L553.1,56.7 L553.9,56.7 L554.4,56.6 M560.1,56.1 L560.9,56.0 L561.7,55.9 L562.5,55.9 L563.3,55.8 L564.1,55.7 L564.6,55.7 M570.3,55.2 L571.1,55.1 L571.9,55.0 L572.7,55.0 L573.5,54.9 L574.3,54.8 L574.8,54.8 M580.5,54.3 L581.3,54.2 L582.1,54.2 L582.9,54.1 L583.7,54.0 L584.5,54.0 L585.0,53.9 M590.7,53.5 L591.5,53.4 L592.3,53.3 L593.1,53.3 L593.9,53.2 L594.7,53.1 L595.2,53.1 M600.9,52.7 L601.7,52.6 L602.5,52.5 L603.3,52.5 L604.1,52.4 L604.9,52.4 L605.4,52.3 M611.1,51.9 L611.9,51.8 L612.7,51.8 L613.5,51.7 L614.3,51.7 L615.1,51.6 L615.6,51.6 M621.3,51.2 L622.1,51.1 L622.9,51.1 L623.7,51.0 L624.5,51.0 L625.3,50.9 L625.8,50.9 M631.5,50.5 L632.3,50.5 L633.1,50.4 L633.9,50.4 L634.7,50.3 L635.5,50.3 L636.0,50.2 M641.7,49.9 L642.5,49.8 L643.3,49.8 L644.1,49.7 L644.9,49.7 L645.7,49.6 L646.2,49.6 M651.9,49.3 L652.7,49.2 L653.5,49.2 L654.3,49.2 L655.1,49.1 L655.9,49.1 L656.4,49.1 M662.1,48.8 L662.9,48.7 L663.7,48.7 L664.5,48.6 L665.3,48.6 L666.1,48.6 L666.6,48.5" stroke="#00f"/>
</g>
</g>
<!-- inset -->
<rect x="480.2" y="239.6" width="243.7" height="204.4" fill="#fff" stroke="none"/>
<g fill="none">
<path d="M479.9,443.8 L480.8,443.1 L481.6,442.4 L482.4,441.7 L483.2,441.1 L484.0,440.4 L484.8,439.7 L485.2,439.4 M488.3,436.8 L489.1,436.1 L490.0,435.4 L490.8,434.7 L491.6,434.0 L492.4,433.4 L493.2,432.7 L493.7,432.3 M496.7,429.8 L497.5,429.1 L498.3,428.4 L499.2,427.7 L500.0,427.1 L500.8,426.4 L501.6,425.7 L502.1,425.3 M505.2,422.7 L506.0,422.0 L506.8,421.4 L507.6,420.7 L508.4,420.0 L509.2,419.3 L510.1,418.7 L510.5,418.3 M513.6,415.8 L514.4,415.1 L515.2,414.4 L516.0,413.8 L516.8,413.1 L517.6,412.4 L518.4,411.8 L518.8,411.4 M521.9,408.9 L522.8,408.2 L523.6,407.6 L524.4,406.9 L525.2,406.2 L526.0,405.6 L526.8,404.9 L527.2,404.6 M530.3,402.1 L531.1,401.4 L532.0,400.7 L532.8,400.1 L533.6,399.4 L534.4,398.8 L535.2,398.1 L535.7,397.7 M538.7,395.3 L539.5,394.6 L540.3,394.0 L541.1,393.3 L542.0,392.7 L542.8,392.0 L543.6,391.4 L544.1,391.0 M547.2,388.5 L548.0,387.9 L548.8,387.2 L549.6,386.6 L550.4,385.9 L551.2,385.3 L552.1,384.6 L552.5,384.3 M555.6,381.9 L556.4,381.2 L557.2,380.6 L558.0,380.0 L558.8,379.3 L559.6,378.7 L560.4,378.1 L560.8,377.7 M563.9,375.3 L564.8,374.7 L565.6,374.1 L566.4,373.4 L567.2,372.8 L568.0,372.2 L568.8,371.6 L569.2,371.2 M572.3,368.9 L573.1,368.2 L573.9,367.6 L574.8,367.0 L575.6,366.4 L576.4,365.8 L577.2,365.1 L577.7,364.8 M580.7,362.5 L581.5,361.9 L582.3,361.3 L583.1,360.7 L584.0,360.0 L584.8,359.4 L585.6,358.8 L586.1,358.5 M589.2,356.2 L590.0,355.5 L590.8,354.9 L591.6,354.3 L592.4,353.7 L593.2,353.1 L594.1,352.5 L594.5,352.2 M597.6,350.0 L598.4,349.4 L599.2,348.8 L600.0,348.2 L600.8,347.6 L601.6,347.0 L602.4,346.4 L602.8,346.1 M605.9,343.9 L606.7,343.3 L607.6,342.7 L608.4,342.2 L609.2,341.6 L610.0,341.0 L610.8,340.4 L611.2,340.1 M614.3,337.9 L615.1,337.4 L615.9,336.8 L616.8,336.2 L617.6,335.7 L618.4,335.1 L619.2,334.5 L619.7,334.2 M622.7,332.1 L623.5,331.5 L624.3,331.0 L625.1,330.4 L626.0,329.9 L626.8,329.3 L627.6,328.7 L628.1,328.4 M631.2,326.3 L632.0,325.8 L632.8,325.2 L633.6,324.7 L634.4,324.1 L635.2,323.6 L636.1,323.0 L636.5,322.8 M639.5,320.7 L640.4,320.2 L641.2,319.6 L642.0,319.1 L642.8,318.6 L643.6,318.0 L644.4,317.5 L644.8,317.3 M647.9,315.3 L648.7,314.7 L649.6,314.2 L650.4,313.7 L651.2,313.2 L652.0,312.6 L652.8,312.1 L653.2,311.9 M656.3,309.9 L657.1,309.4 L657.9,308.9 L658.8,308.4 L659.6,307.9 L660.4,307.4 L661.2,306.9 L661.7,306.6 M664.8,304.7 L665.6,304.2 L666.4,303.7 L667.2,303.2 L668.0,302.7 L668.9,302.2 L669.7,301.7 L670.1,301.5 M673.2,299.6 L674.0,299.1 L674.8,298.7 L675.6,298.2 L676.4,297.7 L677.2,297.2 L678.0,296.7 L678.5,296.5 M681.5,294.7 L682.4,294.2 L683.2,293.8 L684.0,293.3 L684.8,292.8 L685.6,292.4 L686.4,291.9 L686.8,291.7 M689.9,290.0 L690.7,289.5 L691.6,289.0 L692.4,288.6 L693.2,288.2 L694.0,287.7 L694.8,287.3 L695.2,287.0 M698.3,285.4 L699.1,284.9 L699.9,284.5 L700.8,284.0 L701.6,283.6 L702.4,283.2 L703.2,282.7 L703.7,282.5 M706.8,280.9 L707.6,280.4 L708.4,280.0 L709.2,279.6 L710.0,279.2 L710.8,278.8 L711.7,278.4 L712.1,278.2 M715.2,276.6 L716.0,276.2 L716.8,275.8 L717.6,275.4 L718.3,275.1" stroke="#ff8000" stroke-width="2.9"/>
<path d="M479.7,444.0 L483.8,440.5 L488.0,437.1 L492.1,433.6 L496.3,430.2 L500.4,426.8 L504.5,423.4 L508.7,420.1 L512.8,416.7 L516.9,413.4 L521.1,410.1 L525.2,406.8 L529.4,403.5 L533.5,400.2 L537.6,397.0 L541.8,393.8 L545.9,390.6 L550.1,387.4 L554.2,384.3 L558.3,381.2 L562.5,378.1 L566.6,375.0 L570.7,372.0 L574.9,368.9 L579.0,365.9 L583.2,362.9 L587.3,360.0 L591.4,357.0 L595.6,354.1 L599.7,351.3 L603.9,348.4 L608.0,345.6 L612.1,342.8 L616.3,340.0 L620.4,337.2 L624.5,334.5 L628.7,331.8 L632.8,329.1 L637.0,326.4 L641.1,323.8 L645.2,321.2 L649.4,318.6 L653.5,316.1 L657.7,313.6 L661.8,311.1 L665.9,308.6 L670.1,306.1 L674.2,303.7 L678.3,301.3 L682.5,299.0 L686.6,296.6 L690.8,294.3 L694.9,292.1 L699.0,289.8 L703.2,287.6 L707.3,285.4 L711.5,283.2 L715.6,281.1 L719.7,279.0 L723.9,276.9" stroke="#ff0080" stroke-width="2.8"/>
<path d="M479.7,444.0 L480.5,443.3 L481.3,442.6 L482.1,442.0 L483.0,441.3 L483.8,440.6 L484.6,439.9 L485.4,439.2 L486.2,438.5 L487.0,437.9 L487.8,437.2 L488.4,436.7 M491.8,433.8 L492.6,433.1 L493.5,432.5 L494.3,431.8 M497.3,429.3 L498.1,428.6 L498.9,427.9 L499.7,427.2 L500.5,426.5 L501.3,425.8 L502.2,425.2 L503.0,424.5 L503.8,423.8 L504.6,423.1 L505.4,422.4 L506.1,421.9 M509.5,419.0 L510.3,418.3 L511.1,417.7 L511.9,417.0 M514.9,414.4 L515.8,413.8 L516.6,413.1 L517.4,412.4 L518.2,411.7 L519.0,411.0 L519.8,410.4 L520.6,409.7 L521.5,409.0 L522.3,408.3 L523.1,407.6 L523.7,407.1 M527.2,404.2 L528.0,403.5 L528.8,402.8 L529.6,402.2 M532.6,399.6 L533.4,399.0 L534.2,398.3 L535.0,397.6 L535.9,396.9 L536.7,396.2 L537.5,395.5 L538.3,394.9 L539.1,394.2 L539.9,393.5 L540.7,392.8 L541.4,392.3 M544.8,389.4 L545.6,388.7 L546.4,388.0 L547.3,387.4 M550.3,384.8 L551.1,384.1 L551.9,383.5 L552.7,382.8 L553.5,382.1 L554.3,381.4 L555.1,380.7 L556.0,380.0 L556.8,379.4 L557.6,378.7 L558.4,378.0 L559.1,377.4 M562.5,374.6 L563.3,373.9 L564.1,373.2 L564.9,372.5 M567.9,370.0 L568.7,369.3 L569.6,368.7 L570.4,368.0 L571.2,367.3 L572.0,366.6 L572.8,365.9 L573.6,365.2 L574.4,364.6 L575.3,363.9 L576.1,363.2 L576.8,362.6 M580.1,359.8 L580.9,359.1 L581.8,358.4 L582.6,357.7 L582.7,357.7 M585.6,355.2 L586.4,354.5 L587.2,353.8 L588.0,353.2 L588.8,352.5 L589.7,351.8 L590.5,351.1 L591.3,350.4 L592.1,349.7 L592.9,349.1 L593.7,348.4 L594.5,347.8 M597.8,345.0 L598.6,344.3 L599.4,343.6 L600.2,342.9 L600.3,342.9 M603.3,340.4 L604.1,339.7 L604.9,339.0 L605.7,338.3 L606.5,337.7 L607.3,337.0 L608.1,336.3 L608.9,335.6 L609.8,334.9 L610.6,334.3 L611.4,333.6 L612.1,333.0 M615.5,330.2 L616.3,329.5 L617.1,328.8 L617.9,328.1 L618.0,328.0 M621.0,325.5 L621.8,324.8 L622.6,324.2 L623.4,323.5 L624.2,322.8 L625.1,322.1 L625.9,321.4 L626.7,320.7 L627.5,320.1 L628.3,319.4 L629.1,318.7 L629.8,318.1 M633.1,315.3 L633.9,314.7 L634.7,314.0 L635.6,313.3 L635.6,313.2 M638.7,310.7 L639.5,310.0 L640.3,309.3 L641.1,308.7 L641.9,308.0 L642.7,307.3 L643.5,306.6 L644.4,305.9 L645.2,305.2 L646.0,304.6 L646.8,303.9 L647.4,303.3 M650.9,300.5 L651.7,299.8 L652.5,299.1 L653.3,298.4 M656.3,295.9 L657.1,295.2 L657.9,294.5 L658.8,293.9 L659.6,293.2 L660.4,292.5 L661.2,291.8 L662.0,291.1 L662.8,290.4 L663.6,289.8 L664.5,289.1 L665.1,288.5 M668.5,285.7 L669.3,285.0 L670.2,284.3 L671.0,283.6 M674.0,281.1 L674.8,280.4 L675.6,279.7 L676.4,279.0 L677.2,278.4 L678.0,277.7 L678.9,277.0 L679.7,276.3 L680.5,275.6 L681.3,274.9 L682.1,274.3 L682.8,273.7 M686.2,270.8 L687.0,270.2 L687.8,269.5 L688.6,268.8 M691.6,266.3 L692.5,265.6 L693.3,264.9 L694.1,264.2 L694.9,263.5 L695.7,262.9 L696.5,262.2 L697.3,261.5 L698.2,260.8 L699.0,260.1 L699.8,259.5 L700.4,258.9 M703.8,256.0 L704.7,255.4 L705.5,254.7 L706.3,254.0 M709.3,251.5 L710.1,250.8 L710.9,250.1 L711.7,249.4 L712.6,248.7 L713.4,248.1 L714.2,247.4 L715.0,246.7 L715.8,246.0 L716.6,245.3 L717.4,244.6 L718.1,244.1 M721.5,241.2 L722.3,240.5 L723.1,239.9 L723.9,239.3" stroke="#000" stroke-width="2.35"/>
</g>
<g stroke="#000" stroke-width="1.05" fill="none">
<rect x="480.2" y="239.6" width="243.7" height="204.4"/>
<line x1="506.8" y1="444.0" x2="506.8" y2="441.5"/>
<line x1="506.8" y1="239.6" x2="506.8" y2="242.1"/>
<line x1="480.2" y1="421.2" x2="482.7" y2="421.2"/>
<line x1="723.9" y1="421.2" x2="721.4" y2="421.2"/>
<line x1="534.0" y1="444.0" x2="534.0" y2="440.0"/>
<line x1="534.0" y1="239.6" x2="534.0" y2="243.6"/>
<line x1="480.2" y1="398.5" x2="484.2" y2="398.5"/>
<line x1="723.9" y1="398.5" x2="719.9" y2="398.5"/>
<line x1="561.1" y1="444.0" x2="561.1" y2="441.5"/>
<line x1="561.1" y1="239.6" x2="561.1" y2="242.1"/>
<line x1="480.2" y1="375.8" x2="482.7" y2="375.8"/>
<line x1="723.9" y1="375.8" x2="721.4" y2="375.8"/>
<line x1="588.2" y1="444.0" x2="588.2" y2="440.0"/>
<line x1="588.2" y1="239.6" x2="588.2" y2="243.6"/>
<line x1="480.2" y1="353.0" x2="484.2" y2="353.0"/>
<line x1="723.9" y1="353.0" x2="719.9" y2="353.0"/>
<line x1="615.4" y1="444.0" x2="615.4" y2="441.5"/>
<line x1="615.4" y1="239.6" x2="615.4" y2="242.1"/>
<line x1="480.2" y1="330.2" x2="482.7" y2="330.2"/>
<line x1="723.9" y1="330.2" x2="721.4" y2="330.2"/>
<line x1="642.5" y1="444.0" x2="642.5" y2="440.0"/>
<line x1="642.5" y1="239.6" x2="642.5" y2="243.6"/>
<line x1="480.2" y1="307.5" x2="484.2" y2="307.5"/>
<line x1="723.9" y1="307.5" x2="719.9" y2="307.5"/>
<line x1="669.6" y1="444.0" x2="669.6" y2="441.5"/>
<line x1="669.6" y1="239.6" x2="669.6" y2="242.1"/>
<line x1="480.2" y1="284.8" x2="482.7" y2="284.8"/>
<line x1="723.9" y1="284.8" x2="721.4" y2="284.8"/>
<line x1="696.7" y1="444.0" x2="696.7" y2="440.0"/>
<line x1="696.7" y1="239.6" x2="696.7" y2="243.6"/>
<line x1="480.2" y1="262.0" x2="484.2" y2="262.0"/>
<line x1="723.9" y1="262.0" x2="719.9" y2="262.0"/>
</g>
<g font-size="21">
<text x="534.0" y="461.3" text-anchor="middle">0.2</text>
<text x="588.2" y="461.3" text-anchor="middle">0.4</text>
<text x="642.5" y="461.3" text-anchor="middle">0.6</text>
<text x="696.7" y="461.3" text-anchor="middle">0.8</text>
<text x="476.0" y="449.6" text-anchor="end">0</text>
<text x="476.0" y="404.1" text-anchor="end">0.2</text>
<text x="476.0" y="358.6" text-anchor="end">0.4</text>
<text x="476.0" y="313.1" text-anchor="end">0.6</text>
<text x="476.0" y="267.6" text-anchor="end">0.8</text>
</g>
<text x="605.9" y="480.4" text-anchor="middle" font-size="24.7">(a-c)/R</text>
<text transform="translate(433.3,386.5) rotate(-90)" font-size="23.8">Δn/Δn<tspan font-size="15.3" dy="8">max</tspan></text>
<!-- main frame -->
<g stroke="#000" stroke-width="2.1" fill="none">
<rect x="105.9" y="16.3" width="622.2" height="470.6"/>
<line x1="176.6" y1="16.3" x2="176.6" y2="22.1"/>
<line x1="176.6" y1="486.9" x2="176.6" y2="481.09999999999997"/>
<line x1="247.2" y1="16.3" x2="247.2" y2="26.8"/>
<line x1="247.2" y1="486.9" x2="247.2" y2="476.4"/>
<line x1="317.9" y1="16.3" x2="317.9" y2="22.1"/>
<line x1="317.9" y1="486.9" x2="317.9" y2="481.09999999999997"/>
<line x1="388.6" y1="16.3" x2="388.6" y2="26.8"/>
<line x1="388.6" y1="486.9" x2="388.6" y2="476.4"/>
<line x1="459.3" y1="16.3" x2="459.3" y2="22.1"/>
<line x1="459.3" y1="486.9" x2="459.3" y2="481.09999999999997"/>
<line x1="530.0" y1="16.3" x2="530.0" y2="26.8"/>
<line x1="530.0" y1="486.9" x2="530.0" y2="476.4"/>
<line x1="600.6" y1="16.3" x2="600.6" y2="22.1"/>
<line x1="600.6" y1="486.9" x2="600.6" y2="481.09999999999997"/>
<line x1="671.3" y1="16.3" x2="671.3" y2="26.8"/>
<line x1="671.3" y1="486.9" x2="671.3" y2="476.4"/>
<line x1="105.9" y1="417.6" x2="115.9" y2="417.6"/>
<line x1="105.9" y1="317.3" x2="110.9" y2="317.3"/>
<line x1="105.9" y1="217.0" x2="115.9" y2="217.0"/>
<line x1="105.9" y1="116.6" x2="110.9" y2="116.6"/>
</g>
<g font-size="33">
<text x="105.9" y="522.3" text-anchor="middle">0</text>
<text x="247.2" y="522.3" text-anchor="middle">5</text>
<text x="388.6" y="522.3" text-anchor="middle">10</text>
<text x="530.0" y="522.3" text-anchor="middle">15</text>
<text x="671.3" y="522.3" text-anchor="middle">20</text>
<text x="96.6" y="426.5" text-anchor="end" letter-spacing="-0.7">0.0</text>
<text x="96.6" y="225.9" text-anchor="end" letter-spacing="-0.7">0.5</text>
<text x="97.2" y="25.8" text-anchor="end">1<tspan dx="-2.2">.0</tspan></text>
</g>
<text x="403.4" y="560.6" text-anchor="middle" font-size="36.8">Magnetic field (T)</text>
<text transform="translate(46.4,256.5) rotate(-90)" text-anchor="middle" font-size="37.7">Normalized birefringence</text>
<text x="196.2" y="88" font-size="22.1">Helfrich model</text>
<text x="509.6" y="201.8" font-size="22.4">experiment</text>
<text x="674.4" y="54.8" font-size="23.3">60</text><circle cx="706.0" cy="38.4" r="3.5" fill="none" stroke="#000" stroke-width="1.05"/><text x="710.8" y="54.8" font-size="23.3">C</text>
<text x="674.4" y="74.0" font-size="23.3">40</text><circle cx="706.0" cy="57.6" r="3.5" fill="none" stroke="#000" stroke-width="1.05"/><text x="710.8" y="74.0" font-size="23.3">C</text>
<text x="674.4" y="96.9" font-size="23.3">20</text><circle cx="706.0" cy="80.5" r="3.5" fill="none" stroke="#000" stroke-width="1.05"/><text x="710.8" y="96.9" font-size="23.3">C</text>
<text x="674.4" y="124.4" font-size="23.3">60</text><circle cx="706.0" cy="108.0" r="3.5" fill="none" stroke="#000" stroke-width="1.05"/><text x="710.8" y="124.4" font-size="23.3">C</text>
<text x="674.4" y="168.4" font-size="23.3">40</text><circle cx="706.0" cy="152.0" r="3.5" fill="none" stroke="#000" stroke-width="1.05"/><text x="710.8" y="168.4" font-size="23.3">C</text>
<text x="674.4" y="217.1" font-size="23.3">20</text><circle cx="706.0" cy="200.7" r="3.5" fill="none" stroke="#000" stroke-width="1.05"/><text x="710.8" y="217.1" font-size="23.3">C</text>

</svg>
</body></html>
